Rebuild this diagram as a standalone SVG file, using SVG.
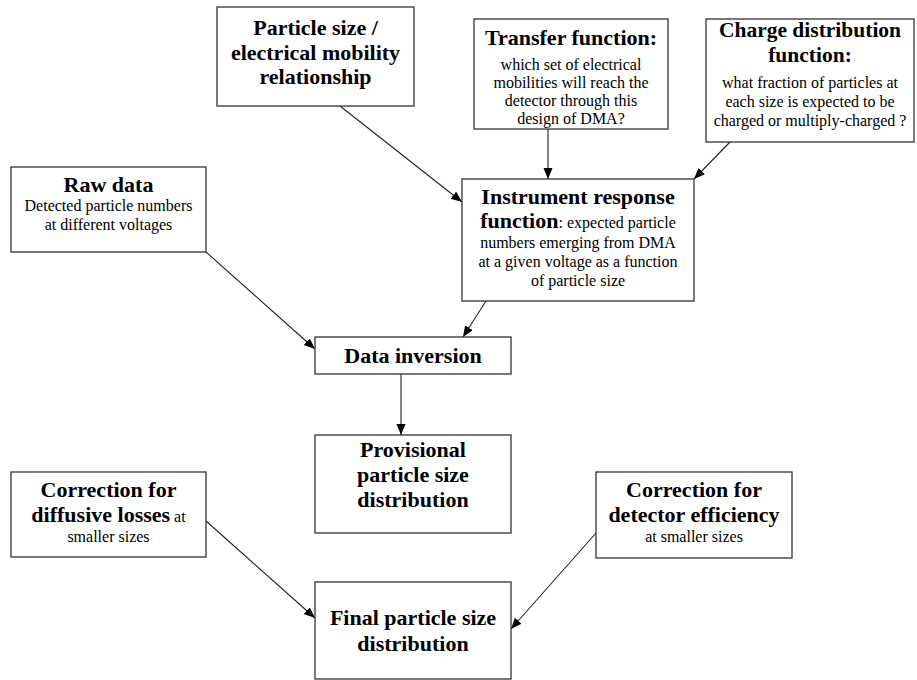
<svg xmlns="http://www.w3.org/2000/svg" width="917" height="680" viewBox="0 0 917 680">
<style>
.box{fill:#fff;stroke:#333;stroke-width:1.3}
.t{font-family:"Liberation Serif","Times New Roman",serif;text-anchor:middle;fill:#000}
.b{font-weight:bold;font-size:22px}
.b2{font-weight:bold;font-size:21.5px}
.n{font-weight:normal;font-size:16px}
.c{stroke:#222;stroke-width:1.1;fill:none;marker-end:url(#ah)}
</style>
<defs>
<marker id="ah" markerUnits="userSpaceOnUse" markerWidth="12" markerHeight="10" refX="11" refY="4.5" orient="auto">
<path d="M0,0 L11,4.5 L0,9 z" fill="#000"/>
</marker>
</defs>
<rect width="917" height="680" fill="#fff"/>
<g id="connectors">
<line class="c" x1="340" y1="106" x2="462" y2="202"/>
<line class="c" x1="548" y1="129" x2="548" y2="179"/>
<line class="c" x1="730" y1="142" x2="694" y2="179"/>
<line class="c" x1="486" y1="301" x2="463" y2="337"/>
<line class="c" x1="206" y1="252" x2="315" y2="349"/>
<line class="c" x1="401" y1="374" x2="401" y2="435"/>
<line class="c" x1="206" y1="521" x2="315" y2="618"/>
<line class="c" x1="596" y1="533" x2="511" y2="629"/>
</g>
<g id="particle-size">
<rect class="box" x="217" y="7" width="197" height="99"/>
<text class="t b" x="315.5" y="35">Particle size /</text>
<text class="t b" x="315.5" y="59.5">electrical mobility</text>
<text class="t b" x="315.5" y="84">relationship</text>
</g>
<g id="transfer-function">
<rect class="box" x="474" y="19" width="194" height="110"/>
<text class="t b" x="571" y="45">Transfer function:</text>
<text class="t n" x="571" y="70">which set of electrical</text>
<text class="t n" x="571" y="88">mobilities will reach the</text>
<text class="t n" x="571" y="106">detector through this</text>
<text class="t n" x="571" y="124">design of DMA?</text>
</g>
<g id="charge-distribution">
<rect class="box" x="706" y="19" width="208" height="123"/>
<text class="t b2" x="810" y="37">Charge distribution</text>
<text class="t b2" x="810" y="61.5">function:</text>
<text class="t n" x="810" y="88">what fraction of particles at</text>
<text class="t n" x="810" y="107">each size is expected to be</text>
<text class="t n" x="810" y="126">charged or multiply-charged ?</text>
</g>
<g id="raw-data">
<rect class="box" x="11" y="167" width="195" height="85"/>
<text class="t b" x="108.5" y="192">Raw data</text>
<text class="t n" x="108.5" y="211">Detected particle numbers</text>
<text class="t n" x="108.5" y="230">at different voltages</text>
</g>
<g id="instrument-response">
<rect class="box" x="462" y="179" width="232" height="122"/>
<text class="t b" x="578" y="204">Instrument response</text>
<text class="t" x="578" y="228"><tspan class="b">function</tspan><tspan class="n">: expected particle</tspan></text>
<text class="t n" x="578" y="248">numbers emerging from DMA</text>
<text class="t n" x="578" y="267">at a given voltage as a function</text>
<text class="t n" x="578" y="286">of particle size</text>
</g>
<g id="data-inversion">
<rect class="box" x="315" y="337" width="196" height="37"/>
<text class="t b" x="413" y="363">Data inversion</text>
</g>
<g id="provisional">
<rect class="box" x="315" y="435" width="196" height="98"/>
<text class="t b" x="413" y="457">Provisional</text>
<text class="t b" x="413" y="482">particle size</text>
<text class="t b" x="413" y="507">distribution</text>
</g>
<g id="diffusive-losses">
<rect class="box" x="11" y="472" width="195" height="85"/>
<text class="t b" x="108.5" y="497">Correction for</text>
<text class="t" x="108.5" y="522"><tspan class="b">diffusive losses</tspan><tspan class="n"> at</tspan></text>
<text class="t n" x="108.5" y="542">smaller sizes</text>
</g>
<g id="detector-efficiency">
<rect class="box" x="596" y="472" width="196" height="86"/>
<text class="t b" x="694" y="497">Correction for</text>
<text class="t b" x="694" y="522">detector efficiency</text>
<text class="t n" x="694" y="542">at smaller sizes</text>
</g>
<g id="final-distribution">
<rect class="box" x="315" y="582" width="196" height="97"/>
<text class="t b" x="413" y="625">Final particle size</text>
<text class="t b" x="413" y="651">distribution</text>
</g>
</svg>
